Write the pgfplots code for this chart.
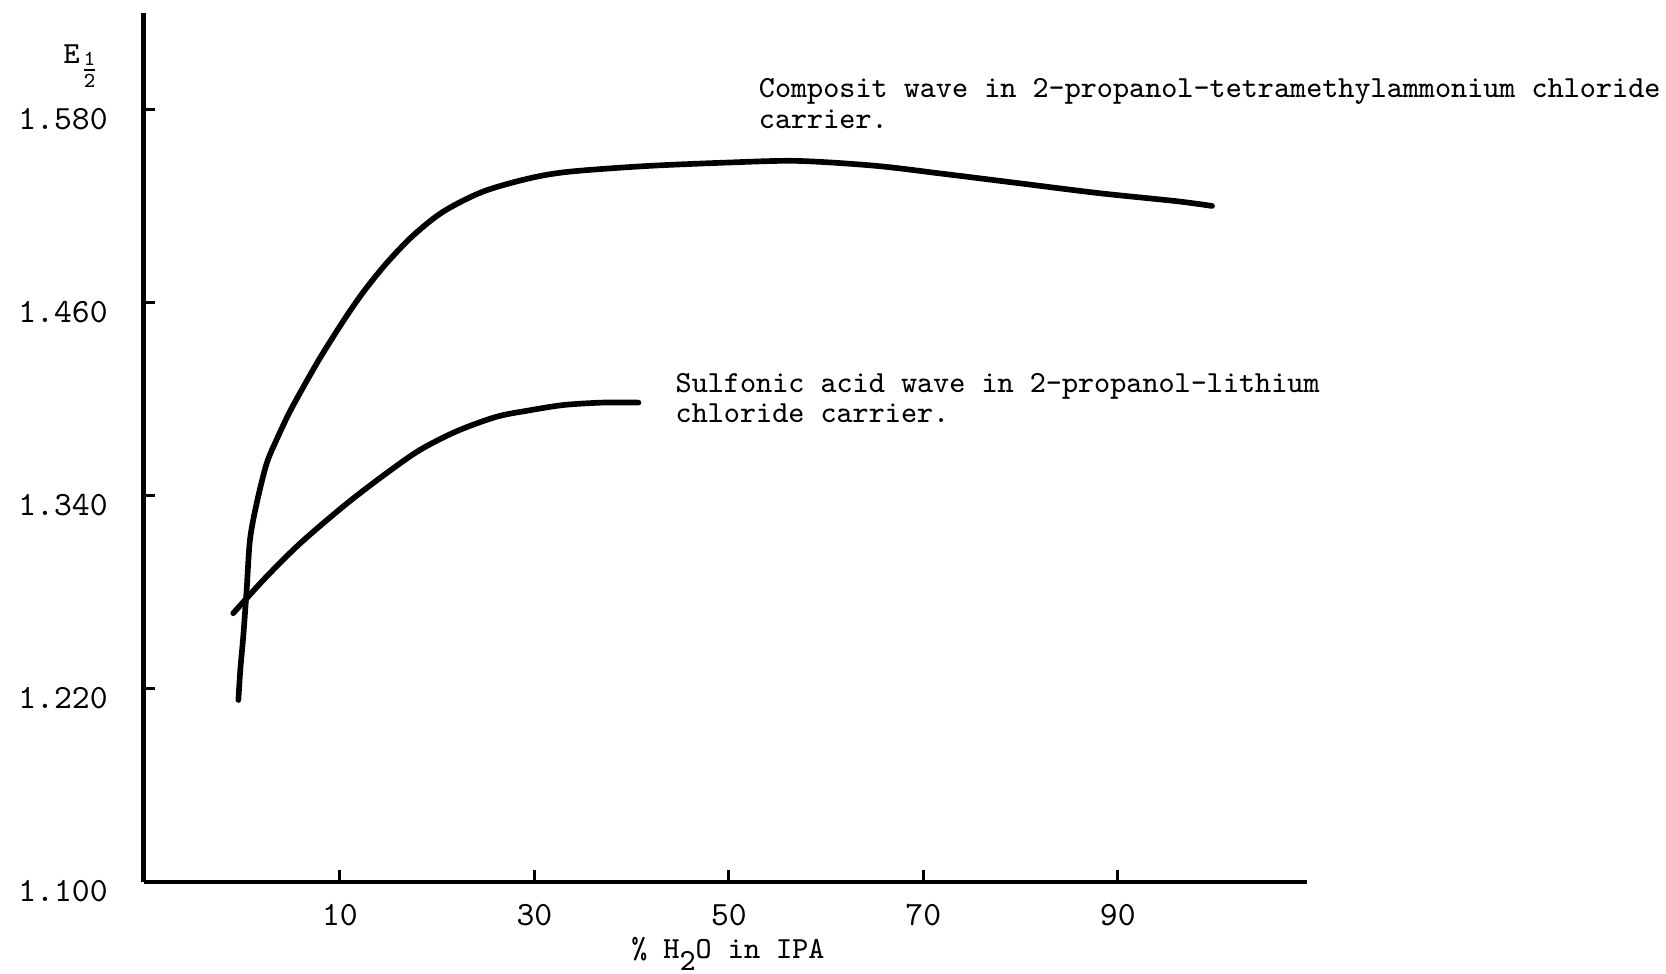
\documentclass[border=0pt]{standalone}
\usepackage{amsmath}
\usepackage{fontspec}
\usepackage{pgfplots}
\pgfplotsset{compat=1.18}
\newcommand\tw{\fontsize{9.2}{9.2}\selectfont\ttfamily}
\newcommand\tl{\fontsize{10.2}{10.2}\selectfont\ttfamily}

\begin{document}
\begin{tikzpicture}
\begin{axis}[
  scale only axis, width=349pt, height=260.7pt,
  xmin=-10.2, xmax=109.45, ymin=1.1, ymax=1.64,
  axis x line=bottom, axis y line=left,
  axis line style={-, line width=1.3pt},
  xtick={10,30,50,70,90}, xticklabels={10,30,50,70,90},
  ytick={1.1,1.22,1.34,1.46,1.58},
  yticklabels={1.100,1.220,1.340,1.460,1.580},
  tick align=inside, major tick length=3.5pt,
  tick style={line width=0.9pt, black},
  ticklabel style={font=\tl, inner sep=0pt},
  xticklabel style={anchor=base, yshift=-13.2pt},
  yticklabel style={anchor=base east, xshift=-10.6pt, yshift=-6pt},
  clip=false,
]
% composite wave
\addplot[black, line width=1.7pt, line cap=round, line join=round, smooth, tension=0.5] coordinates {
  (-0.45,1.213) (-0.25,1.232) (0.05,1.2524) (0.4,1.2814) (0.74,1.3124)
  (1.43,1.3352) (2.46,1.360)
  (3.5,1.375) (4.7,1.3905) (6.0,1.405) (7.94,1.4255) (10.34,1.4485)
  (12.4,1.4665) (14.8,1.4845) (17.5,1.5015) (20.6,1.5164) (24.7,1.5289)
  (29.5,1.5372) (33.6,1.5413) (41.5,1.5448) (50,1.547) (57,1.548)
  (65,1.545) (72,1.540) (80,1.534) (88,1.528) (96,1.523) (99.7,1.520)
};
% sulfonic acid wave
\addplot[black, line width=1.7pt, line cap=round, line join=round, smooth, tension=0.5] coordinates {
  (-0.98,1.2669) (0.4,1.2762) (2.5,1.290) (5.54,1.3083) (8.5,1.324)
  (11.37,1.3383) (14.8,1.354) (18.2,1.3683) (22,1.380) (26.1,1.389)
  (29.5,1.393) (33.0,1.3963) (37,1.3978) (40.7,1.3978)
};

\node[anchor=base west, inner sep=0pt, font=\tw] at (axis cs:-18.49,1.6086)
  {E\raisebox{-4.2pt}{$\genfrac{}{}{0.5pt}{1}{\mathtt{1}}{\mathtt{2}}$}};
\node[anchor=base west, inner sep=0pt, font=\tw] at (axis cs:53.02,1.5873)
  {Composit wave in 2-propanol-tetramethylammonium chloride};
\node[anchor=base west, inner sep=0pt, font=\tw] at (axis cs:53.02,1.5683)
  {carrier.};
\node[anchor=base west, inner sep=0pt, font=\tw] at (axis cs:44.46,1.4042)
  {Sulfonic acid wave in 2-propanol-lithium};
\node[anchor=base west, inner sep=0pt, font=\tw] at (axis cs:44.46,1.3853)
  {chloride carrier.};
\node[anchor=base, inner sep=0pt, font=\tw, yshift=-23.1pt] at (axis cs:49.9,1.1)
  {\% H\raisebox{-3.5pt}{2}O in IPA};

\path (axis cs:-24.97,1.0428) rectangle (axis cs:146.39,1.648);
\end{axis}
\end{tikzpicture}
\end{document}
